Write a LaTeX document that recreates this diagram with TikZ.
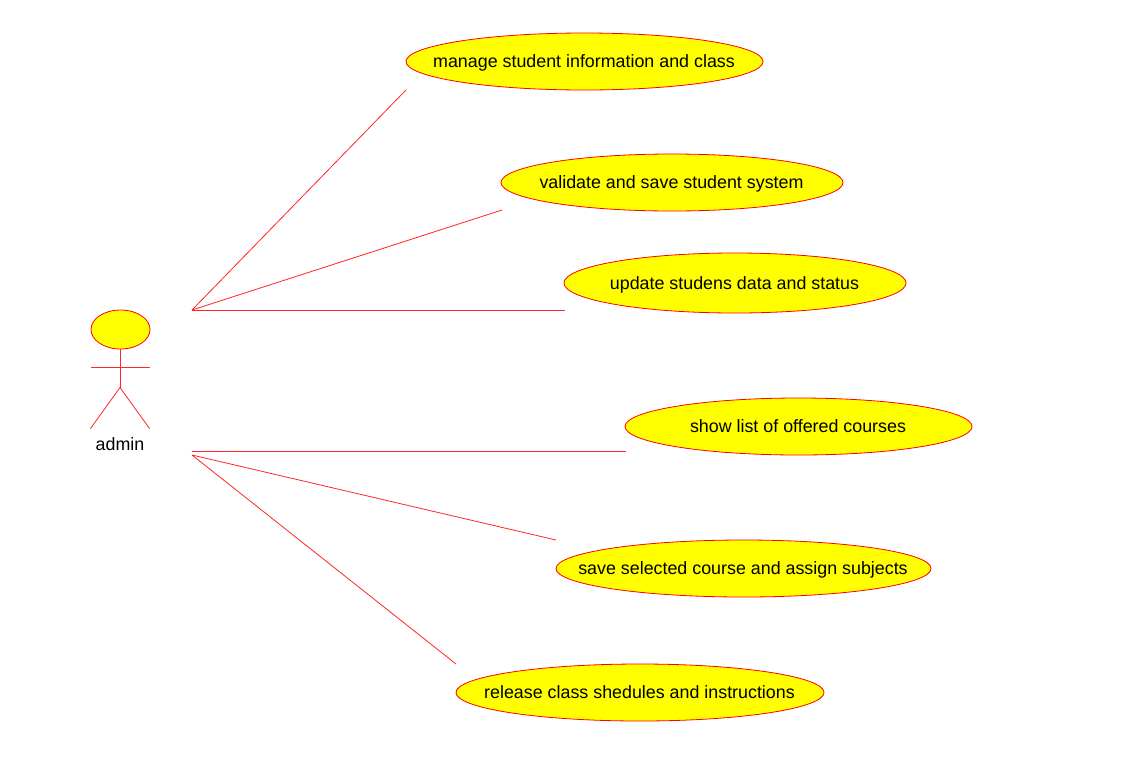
\documentclass[tikz,border=0pt]{standalone}
\usepackage{fontspec}
\setmainfont{Liberation Sans}
\usetikzlibrary{shapes.geometric}
\definecolor{umlred}{RGB}{255,0,0}
\definecolor{umlyellow}{RGB}{255,255,0}
\tikzset{
  usecase/.style={ellipse,draw=umlred,fill=umlyellow,line width=0.8pt,inner sep=0pt,outer sep=0pt,minimum width=#1},
  wire/.style={draw=umlred!85,line width=0.8pt},
  lbl/.style={font=\fontsize{17.85}{20}\selectfont,text=black,inner sep=0pt,anchor=base},
}
\begin{document}
\begin{tikzpicture}[x=1pt,y=-1pt]
\useasboundingbox (0,0) rectangle (1145,761);
\fill[white] (0,0) rectangle (1145,761);
% use cases
\node[usecase=357pt,minimum height=57pt] (uc1) at (584.5,61.5) {};
\node[usecase=342pt,minimum height=57pt] (uc2) at (672,182.5) {};
\node[usecase=342pt,minimum height=60pt] (uc3) at (735,283) {};
\node[usecase=347pt,minimum height=57pt] (uc4) at (798.5,426.5) {};
\node[usecase=375pt,minimum height=57pt] (uc5) at (743.5,568.5) {};
\node[usecase=368pt,minimum height=57pt] (uc6) at (640,692.5) {};
\node[lbl] (t1) at (584,67) {manage student information and class};
\node[lbl] (t2) at (671.5,188) {validate and save student system};
\node[lbl] (t3) at (734.5,289) {update studens data and status};
\node[lbl] (t4) at (798,432) {show list of offered courses};
\node[lbl] (t5) at (743,574) {save selected course and assign subjects};
\node[lbl] (t6) at (639.5,698) {release class shedules and instructions};
% actor
\node[ellipse,draw=umlred,fill=umlyellow,line width=0.8pt,minimum width=59pt,minimum height=39pt,inner sep=0pt,outer sep=0pt] (head) at (120.5,329.5) {};
\coordinate (hip) at (120,387.5);
\coordinate (armL) at (90.5,367.5);
\coordinate (armR) at (149.5,367.5);
\coordinate (neck) at (120,349);
\coordinate (footL) at (90.5,428.5);
\coordinate (footR) at (149.5,428.5);
\draw[wire] (neck) -- (hip);
\draw[wire] (armL) -- (armR);
\draw[wire] (footL) -- (hip) -- (footR);
\node[lbl] (admin) at (120,450) {admin};
% connectors
\coordinate (top) at (192,310);
\coordinate (low) at (192,451);
\coordinate (low2) at (192,455);
\coordinate (e3) at (565,310);
\coordinate (e4) at (626,451);
\coordinate (e2) at (502,210);
\draw[wire] (top) -- (uc1.west |- uc1.south);
\draw[wire] (top) -- (e2);
\draw[wire] (top) -- (e3);
\draw[wire] (low) -- (e4);
\draw[wire] (low2) -- (uc5.west |- uc5.north);
\draw[wire] (low2) -- (uc6.west |- uc6.north);
\end{tikzpicture}
\end{document}
